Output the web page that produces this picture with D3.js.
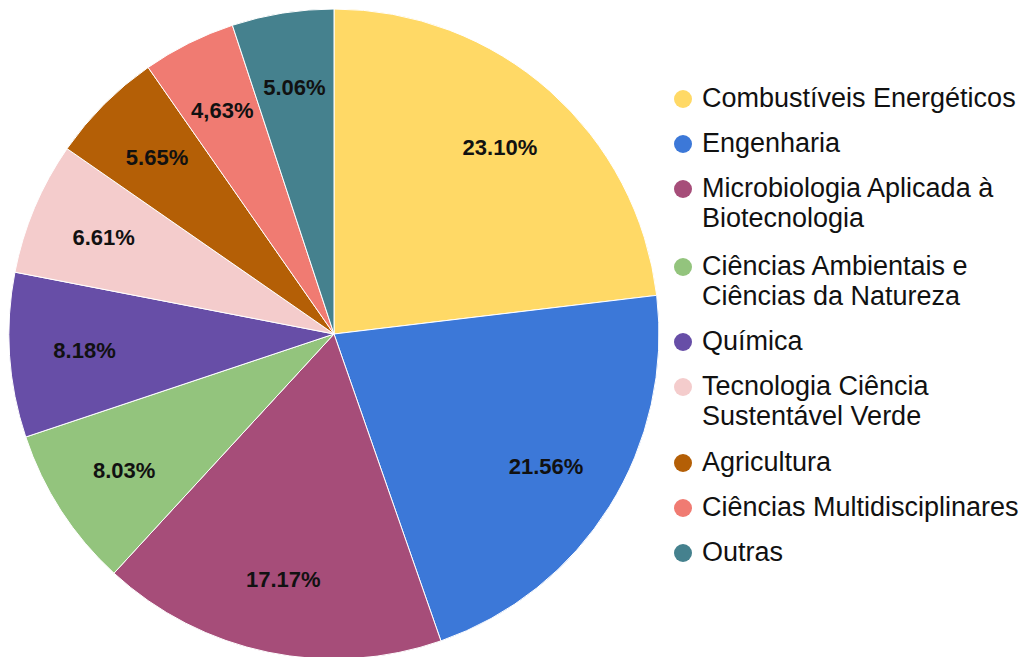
<!DOCTYPE html>
<html>
<head>
<meta charset="utf-8">
<script src="https://cdn.jsdelivr.net/npm/d3@7"></script>
<style>
body { margin: 0; background: #fff; }
text { font-family: "Liberation Sans", Arial, sans-serif; }
</style>
</head>
<body>
<div id="chart"></div>
<script>
var categories = [
    ["Combustíveis Energéticos"],
    ["Engenharia"],
    ["Microbiologia Aplicada à", "Biotecnologia"],
    ["Ciências Ambientais e", "Ciências da Natureza"],
    ["Química"],
    ["Tecnologia Ciência", "Sustentável Verde"],
    ["Agricultura"],
    ["Ciências Multidisciplinares"],
    ["Outras"]
];
var values = [23.10, 21.56, 17.17, 8.03, 8.18, 6.61, 5.65, 4.63, 5.06];
var labels = ["23.10%", "21.56%", "17.17%", "8.03%", "8.18%", "6.61%", "5.65%", "4,63%", "5.06%"];
var colors = ["#ffd966", "#3c78d8", "#a64d79", "#93c47d", "#674ea7", "#f4cccc", "#b45f06", "#f07b72", "#45818e"];

var width = 1023, height = 657;
var cx = 334, cy = 334, radius = 325;

var svg = d3.select("#chart")
    .append("svg")
    .attr("width", width)
    .attr("height", height);

var pie = d3.pie().sort(null).value(function(d){return d});
var arcs = pie(values);

var arc = d3.arc().innerRadius(0).outerRadius(radius);
var labelArc = d3.arc().innerRadius(250).outerRadius(250);

var g = svg.append("g").attr("transform", "translate(" + cx + "," + cy + ")");

g.selectAll("path.slice")
    .data(arcs)
    .enter()
    .append("path")
    .attr("class", "slice")
    .attr("d", arc)
    .attr("fill", function(d, i){return colors[i]})
    .attr("stroke", "#fff")
    .attr("stroke-width", 1);

g.selectAll("text.lbl")
    .data(arcs)
    .enter()
    .append("text")
    .attr("class", "lbl")
    .attr("transform", function(d){return "translate(" + labelArc.centroid(d) + ")"})
    .attr("text-anchor", "middle")
    .attr("dy", "0.35em")
    .attr("font-size", 22)
    .attr("font-weight", "bold")
    .attr("fill", "#111")
    .text(function(d, i){return labels[i]});

// legend
var legendY = d3.scaleOrdinal()
    .domain(d3.range(categories.length))
    .range([99, 144, 189, 267, 342, 387, 463, 508, 553]);

var items = svg.selectAll("g.legend")
    .data(categories)
    .enter()
    .append("g")
    .attr("class", "legend")
    .attr("transform", function(d, i){return "translate(683," + legendY(i) + ")"});

items.append("circle")
    .attr("r", 9)
    .attr("fill", function(d, i){return colors[i]});

items.each(function(d){
    var t = d3.select(this).append("text")
        .attr("x", 19)
        .attr("font-size", 27)
        .attr("fill", "#111");
    d.forEach(function(line, j){
        t.append("tspan")
            .attr("x", 19)
            .attr("y", j * 29.5)
            .attr("dy", "0.3em")
            .text(line);
    });
});
</script>
</body>
</html>
